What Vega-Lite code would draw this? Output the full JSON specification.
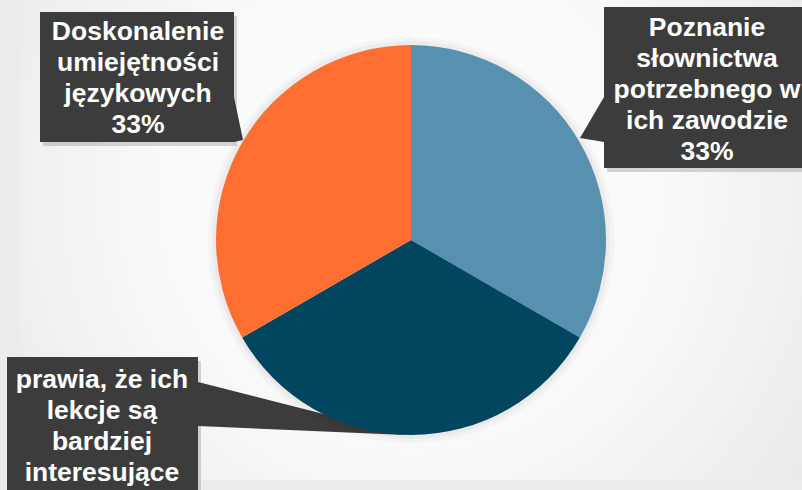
{
  "$schema": "https://vega.github.io/schema/vega-lite/v6.json",
  "width": 782,
  "height": 480,
  "autosize": {"type": "none"},
  "padding": {"left": 20, "top": 0, "right": 0, "bottom": 10},
  "background": "#ececec",
  "view": {
    "stroke": null,
    "fill": {
      "gradient": "radial",
      "x1": 0.5, "y1": 0.45, "r1": 0,
      "x2": 0.5, "y2": 0.45, "r2": 0.75,
      "stops": [
        {"offset": 0, "color": "#ffffff"},
        {"offset": 0.45, "color": "#f8f8f8"},
        {"offset": 1, "color": "#e2e2e2"}
      ]
    }
  },
  "data": {
    "values": [
      {"category": "Poznanie słownictwa potrzebnego w ich zawodzie", "label": "Poznanie\nsłownictwa\npotrzebnego w\nich zawodzie\n33%", "value": 33.3, "order": 1},
      {"category": "Sprawia, że ich lekcje są bardziej interesujące", "label": "prawia, że ich\nlekcje są\nbardziej\ninteresujące", "value": 33.3, "order": 2},
      {"category": "Doskonalenie umiejętności językowych", "label": "Doskonalenie\numiejętności\njęzykowych\n33%", "value": 33.3, "order": 3}
    ]
  },
  "layer": [
    {
      "transform": [{"filter": "datum.order == 3"}],
      "mark": {"type": "point", "filled": true, "size": 4, "opacity": 0.3, "color": "#7a7a7a", "strokeWidth": 0,
        "shape": "M-368,-224L-174,-224L-174,-94L-368,-94Z"}
    },
    {
      "transform": [{"filter": "datum.order == 1"}],
      "mark": {"type": "point", "filled": true, "size": 4, "opacity": 0.3, "color": "#7a7a7a", "strokeWidth": 0,
        "shape": "M196,-229L402,-229L402,-68L196,-68Z"}
    },
    {
      "transform": [{"filter": "datum.order == 2"}],
      "mark": {"type": "point", "filled": true, "size": 4, "opacity": 0.3, "color": "#7a7a7a", "strokeWidth": 0,
        "shape": "M-401,121L-210,121L-210,264L-401,264Z"}
    },
    {
      "transform": [{"filter": "datum.order == 3"}],
      "mark": {"type": "point", "filled": true, "size": 4, "opacity": 1, "color": "#3c3c3c", "strokeWidth": 0,
        "shape": "M-371,-228L-177,-228L-177,-143L-168,-100L-177,-98L-371,-98Z"}
    },
    {
      "transform": [{"filter": "datum.order == 1"}],
      "mark": {"type": "point", "filled": true, "size": 4, "opacity": 1, "color": "#3c3c3c", "strokeWidth": 0,
        "shape": "M193,-233L399,-233L399,-72L193,-72L193,-98L169,-102L193,-143Z"}
    },
    {
      "transform": [{"filter": "datum.order == 2"}],
      "mark": {"type": "point", "filled": true, "size": 4, "opacity": 1, "color": "#3c3c3c", "strokeWidth": 0,
        "shape": "M-404,117L-213,117L-213,142L-5,195L-213,186L-213,260L-404,260Z"}
    },
    {
      "mark": {"type": "arc", "outerRadius": 203, "color": "#000000", "opacity": 0.025},
      "encoding": {
        "theta": {"field": "value", "type": "quantitative", "stack": true},
        "order": {"field": "order", "type": "quantitative"}
      }
    },
    {
      "mark": {"type": "arc", "outerRadius": 199, "color": "#000000", "opacity": 0.035},
      "encoding": {
        "theta": {"field": "value", "type": "quantitative", "stack": true},
        "order": {"field": "order", "type": "quantitative"}
      }
    },
    {
      "mark": {"type": "arc", "outerRadius": 195},
      "encoding": {
        "theta": {"field": "value", "type": "quantitative", "stack": true},
        "order": {"field": "order", "type": "quantitative"},
        "color": {
          "field": "category", "type": "nominal", "legend": null,
          "scale": {
            "domain": ["Poznanie słownictwa potrzebnego w ich zawodzie", "Sprawia, że ich lekcje są bardziej interesujące", "Doskonalenie umiejętności językowych"],
            "range": ["#5890af", "#01455f", "#fe6f31"]
          }
        }
      }
    },
    {
      "transform": [{"filter": "datum.order == 3"}],
      "mark": {"type": "text", "font": "Liberation Sans", "fontWeight": "bold", "fontSize": 26.5, "lineHeight": 31, "lineBreak": "\n", "color": "#ffffff", "align": "center", "baseline": "middle", "dx": -273, "dy": -208},
      "encoding": {"text": {"field": "label", "type": "nominal"}}
    },
    {
      "transform": [{"filter": "datum.order == 1"}],
      "mark": {"type": "text", "font": "Liberation Sans", "fontWeight": "bold", "fontSize": 26.5, "lineHeight": 31, "lineBreak": "\n", "color": "#ffffff", "align": "center", "baseline": "middle", "dx": 296, "dy": -212},
      "encoding": {"text": {"field": "label", "type": "nominal"}}
    },
    {
      "transform": [{"filter": "datum.order == 2"}],
      "mark": {"type": "text", "font": "Liberation Sans", "fontWeight": "bold", "fontSize": 26.5, "lineHeight": 31, "lineBreak": "\n", "color": "#ffffff", "align": "center", "baseline": "middle", "dx": -309, "dy": 140},
      "encoding": {"text": {"field": "label", "type": "nominal"}}
    }
  ]
}
